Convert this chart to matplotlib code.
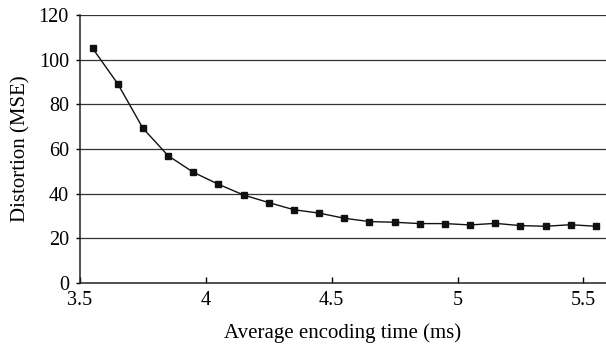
import matplotlib
matplotlib.use("Agg")
import matplotlib.pyplot as plt

enc_time = [3.55, 3.65, 3.75, 3.85, 3.95, 4.05, 4.15, 4.25, 4.35, 4.45, 4.55,
            4.65, 4.75, 4.85, 4.95, 5.05, 5.15, 5.25, 5.35, 5.45, 5.55]
distortion = [105.1, 89.2, 69.3, 57.0, 49.6, 44.2, 39.4, 36.0, 32.8, 31.3, 29.0,
              27.5, 27.2, 26.6, 26.6, 26.0, 26.7, 25.7, 25.4, 26.1, 25.4]
x_ticks = [3.5, 4, 4.5, 5, 5.5]
x_tick_labels = ["3.5", "4", "4.5", "5", "5.5"]
y_ticks = [0, 20, 40, 60, 80, 100, 120]

plt.rcParams['font.family'] = ['Liberation Serif', 'DejaVu Serif']

fig = plt.figure(figsize=(6.06, 3.46), dpi=100)
ax = fig.add_axes([80/606, 1-283/346, 1-80/606, (283-15)/346])

for y in y_ticks[1:]:
    ax.axhline(y, color='#333333', lw=0.9, zorder=1)

ax.plot(enc_time, distortion, color='#111111', lw=1.0, marker='s', ms=4.5,
        mfc='#111111', mec='#111111', zorder=3)

ax.set_xlim(3.5, 5.59)
ax.set_ylim(0, 120)
ax.set_xticks(x_ticks)
ax.set_xticklabels(x_tick_labels)
ax.set_yticks(y_ticks)
ax.tick_params(axis='x', direction='in', length=4, width=1, labelsize=14.5, pad=6)
ax.tick_params(axis='y', direction='out', length=3, width=1, labelsize=14.5, pad=5)
for s in ['left', 'bottom']:
    ax.spines[s].set_color('#222222')
    ax.spines[s].set_linewidth(1.1)
ax.spines['right'].set_visible(False)
ax.spines['top'].set_visible(False)

ax.set_xlabel("Average encoding time (ms)", fontsize=15, labelpad=9)
ax.set_ylabel("Distortion (MSE)", fontsize=15, labelpad=6)

fig.savefig("out.png", dpi=100)
